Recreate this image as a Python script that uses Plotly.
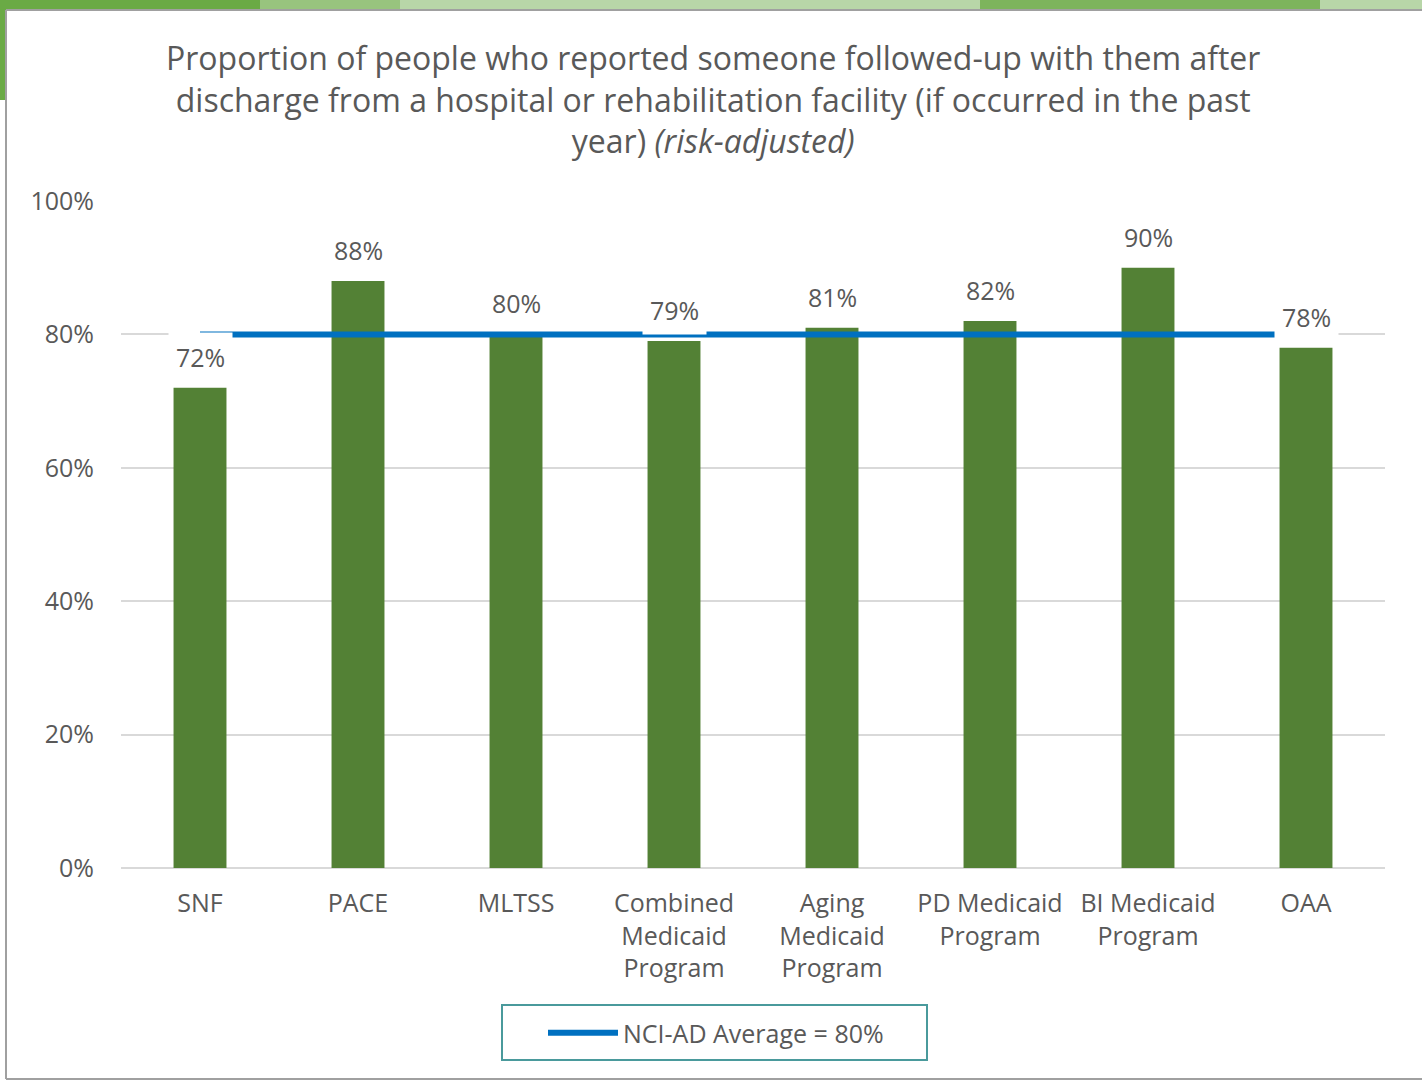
import plotly.graph_objects as go

categories = ["SNF", "PACE", "MLTSS", "Combined<br>Medicaid<br>Program", "Aging<br>Medicaid<br>Program",
              "PD Medicaid<br>Program", "BI Medicaid<br>Program", "OAA"]
values = [72, 88, 80, 79, 81, 82, 90, 78]
average = 80
avg_name = "NCI-AD Average = 80%"
title_text = ("Proportion of people who reported someone followed-up with them after<br>"
              "discharge from a hospital or rehabilitation facility (if occurred in the past<br>"
              "year) <i>(risk-adjusted)</i>")

W, H = 1422, 1081
L, R, T, B = 121, 1385, 201, 868
GREY = "#595959"
FONT = "Open Sans"

def px(x):
    return (x - L) / (R - L)

def py(y):
    return (B - y) / (B - T)

fig = go.Figure()
fig.add_trace(go.Bar(x=categories, y=values, marker=dict(color="#538135", line=dict(width=0)),
                     showlegend=False, hoverinfo="skip"))
fig.add_trace(go.Scatter(x=categories, y=[average] * len(categories), mode="lines",
                         line=dict(color="#0070C0", width=6), name=avg_name))

annotations = []
for c, v in zip(categories, values):
    annotations.append(dict(x=c, y=v, xref="x", yref="y", text=f"{v}%", showarrow=False,
                            yanchor="bottom", yshift=6, bgcolor="white", borderpad=7,
                            font=dict(size=25, color=GREY, family=FONT)))
annotations.append(dict(x=px(713), xref="paper", y=py(99), yref="paper", text=title_text, showarrow=False,
                        xanchor="center", yanchor="middle",
                        font=dict(size=32, color=GREY, family=FONT)))

shapes = [
    # top decorative band
    dict(type="rect", xref="paper", yref="paper", x0=px(0), x1=px(W), y0=py(10), y1=py(0),
         fillcolor="#b8d6a8", line=dict(width=0), layer="below"),
    dict(type="rect", xref="paper", yref="paper", x0=px(0), x1=px(260), y0=py(10), y1=py(0),
         fillcolor="#6aaa45", line=dict(width=0), layer="below"),
    dict(type="rect", xref="paper", yref="paper", x0=px(260), x1=px(400), y0=py(10), y1=py(0),
         fillcolor="#98c47e", line=dict(width=0), layer="below"),
    dict(type="rect", xref="paper", yref="paper", x0=px(980), x1=px(1320), y0=py(10), y1=py(0),
         fillcolor="#7db45c", line=dict(width=0), layer="below"),
    dict(type="rect", xref="paper", yref="paper", x0=px(0), x1=px(6), y0=py(100), y1=py(0),
         fillcolor="#6aaa45", line=dict(width=0), layer="below"),
    # frame
    dict(type="line", xref="paper", yref="paper", x0=px(6), x1=px(W), y0=py(10), y1=py(10),
         line=dict(color="#a0a0a0", width=2)),
    dict(type="line", xref="paper", yref="paper", x0=px(6), x1=px(6), y0=py(10), y1=py(1079),
         line=dict(color="#a0a0a0", width=2)),
    dict(type="line", xref="paper", yref="paper", x0=px(6), x1=px(W), y0=py(1079), y1=py(1079),
         line=dict(color="#a0a0a0", width=2)),
    # legend frame
    dict(type="rect", xref="paper", yref="paper", x0=px(502), x1=px(927), y0=py(1060), y1=py(1005),
         line=dict(color="#4a9a9c", width=2), fillcolor="rgba(0,0,0,0)"),
]

fig.update_layout(
    width=W, height=H,
    margin=dict(l=L, r=W - R, t=T, b=H - B),
    paper_bgcolor="white", plot_bgcolor="white",
    bargap=0.665,
    font=dict(family=FONT, color=GREY),
    xaxis=dict(showgrid=False, showline=False, ticks="", tickfont=dict(size=25, color=GREY, family=FONT),
               ticklabelstandoff=18, fixedrange=True),
    yaxis=dict(range=[0, 100], tickvals=[0, 20, 40, 60, 80, 100], ticktext=["0%", "20%", "40%", "60%", "80%", "100%"],
               showgrid=True, gridcolor="#d9d9d9", gridwidth=2, zeroline=True, zerolinecolor="#d9d9d9",
               zerolinewidth=2, showline=False, ticks="", ticklabelstandoff=26,
               tickfont=dict(size=25, color=GREY, family=FONT)),
    legend=dict(orientation="h", x=px(716), xanchor="center", y=py(1033), yanchor="middle",
                borderwidth=0, bgcolor="rgba(0,0,0,0)", itemwidth=70,
                font=dict(size=25, color=GREY, family=FONT)),
    annotations=annotations,
    shapes=shapes,
)

fig.write_html("out.html")
